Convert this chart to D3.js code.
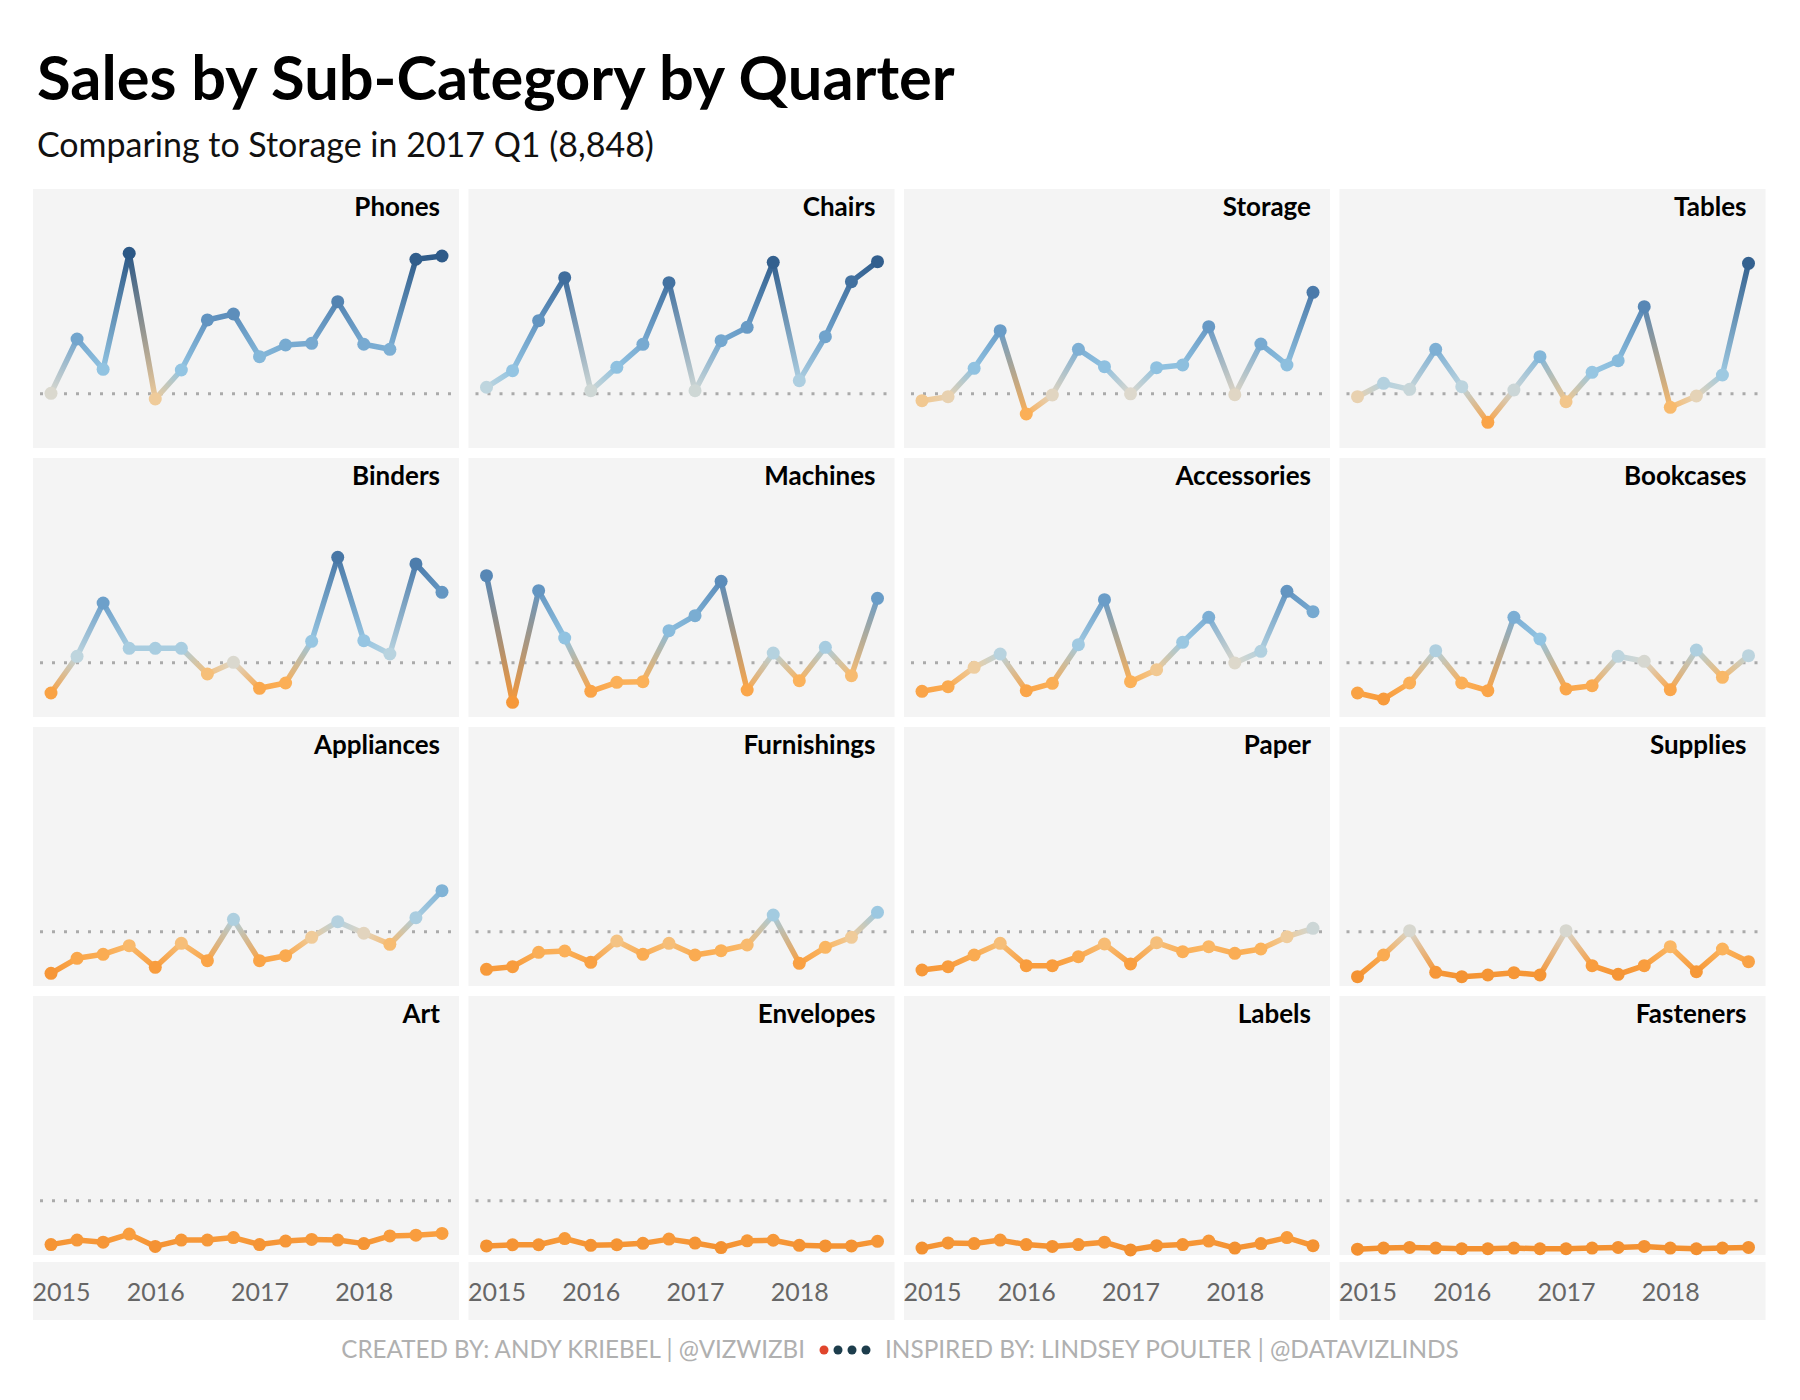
<!DOCTYPE html>
<html>
<head>
<meta charset="utf-8">
<script src="https://cdn.jsdelivr.net/npm/d3@7"></script>
<style>
  body { margin: 0; background: #fff; }
  svg { display: block; }
</style>
</head>
<body>
<div id="chart"></div>
<script>
// quarters shown on every small multiple
const quarters = ['2015 Q1','2015 Q2','2015 Q3','2015 Q4','2016 Q1','2016 Q2','2016 Q3','2016 Q4',
                  '2017 Q1','2017 Q2','2017 Q3','2017 Q4','2018 Q1','2018 Q2','2018 Q3','2018 Q4'];
const yearTicks = ['2015 Q1','2016 Q1','2017 Q1','2018 Q1'];
const benchmark = 8848; // Storage, 2017 Q1

// panel order, row by row
const gridRows = [
  ['Phones', 'Chairs', 'Storage', 'Tables'],
  ['Binders', 'Machines', 'Accessories', 'Bookcases'],
  ['Appliances', 'Furnishings', 'Paper', 'Supplies'],
  ['Art', 'Envelopes', 'Labels', 'Fasteners']
];

// quarterly sales
const phones      = [8950, 18530, 13185, 33660, 7940, 13060, 21890, 22945, 15410, 17475, 17770, 25120, 17600, 16710, 32600, 33180];
const chairs      = [10010, 12940, 21765, 29355, 9410, 13535, 17590, 28475, 9410, 18235, 20590, 32065, 11180, 18940, 28650, 32180];
const storage     = [7645, 8350, 13360, 20000, 5295, 8650, 16710, 13645, 8848, 13470, 13945, 20705, 8700, 17650, 13945, 26770];
const tables      = [8350, 10710, 9650, 16710, 10115, 3825, 9530, 15410, 7470, 12650, 14705, 24235, 6470, 8470, 12180, 31890];
const binders     = [3530, 10005, 19415, 11420, 11420, 11420, 6885, 8950, 4360, 5295, 12650, 27480, 12760, 10415, 26300, 21300];
const machines    = [24235, 1890, 21590, 13240, 3830, 5420, 5530, 14530, 17180, 23240, 4060, 10590, 5710, 11590, 6590, 20240];
const accessories = [3825, 4650, 8060, 10415, 3940, 5240, 12060, 20000, 5530, 7650, 12470, 16890, 8825, 10885, 21475, 17885];
const bookcases   = [3530, 2470, 5295, 11000, 5295, 3940, 16890, 13060, 4235, 4825, 10005, 9120, 4120, 11120, 6300, 10115];
const appliances  = [1535, 4180, 4890, 6410, 2595, 6830, 3760, 11065, 3760, 4640, 7890, 10640, 8600, 6655, 11350, 16115];
const furnishings = [2240, 2700, 5240, 5470, 3475, 7235, 4890, 6830, 4765, 5525, 6530, 11825, 3300, 6125, 7890, 12300];
const paper       = [2120, 2700, 4765, 6830, 2880, 2880, 4465, 6705, 3175, 6940, 5350, 6230, 5065, 5825, 8000, 9480];
const supplies    = [935, 4765, 9055, 1710, 935, 1235, 1640, 1235, 9055, 2880, 1360, 2880, 6230, 1820, 5825, 3585];
const art         = [1130, 1925, 1555, 2980, 810, 1925, 1925, 2365, 1130, 1745, 2045, 1925, 1305, 2665, 2790, 3105];
const envelopes   = [900, 1100, 1100, 2200, 1000, 1100, 1350, 2100, 1400, 600, 1800, 1900, 1000, 900, 900, 1700];
const labels      = [510, 1430, 1305, 1925, 1130, 810, 1130, 1555, 195, 935, 1130, 1745, 510, 1305, 2365, 935];
const fasteners   = [320, 510, 635, 510, 400, 400, 510, 400, 400, 510, 635, 810, 510, 400, 510, 635];

const sales = {
  Phones: phones, Chairs: chairs, Storage: storage, Tables: tables,
  Binders: binders, Machines: machines, Accessories: accessories, Bookcases: bookcases,
  Appliances: appliances, Furnishings: furnishings, Paper: paper, Supplies: supplies,
  Art: art, Envelopes: envelopes, Labels: labels, Fasteners: fasteners
};

const W = 1800, H = 1400;
const font = 'Lato, "Open Sans", "DejaVu Sans", sans-serif';
const panelW = 426, panelH = 259;
const colX = c => 33 + c * 435.5;
const rowY = r => 189 + r * 269;

const svg = d3.select('#chart').append('svg')
  .attr('width', W)
  .attr('height', H)
  .attr('font-family', font);

const defs = svg.append('defs');

const x = d3.scalePoint().domain(quarters).range([18, 409]);
const y = d3.scaleLinear().domain([0, 45000]).range([255, 0]);

// orange below the benchmark, blue above it
const color = d3.scaleLinear()
  .domain([0, 3000, 6000, 8000, 8848, 10000, 13000, 20000, 27000, 34000])
  .range(['#f28e2e', '#f99e3f', '#fbb45e', '#efcc9c', '#ddd8cc', '#bed5de', '#92c4e2', '#6a9dc8', '#4a79a9', '#2a5684'])
  .interpolate(d3.interpolateRgb)
  .clamp(true);

// title block
function fitText(sel, target) {
  const w = sel.node().getComputedTextLength();
  const fs = parseFloat(sel.attr('font-size'));
  sel.attr('font-size', fs * target / w);
}

const title = svg.append('text')
  .attr('x', 37).attr('y', 100)
  .attr('font-size', 60).attr('font-weight', 'bold').attr('fill', '#000')
  .text('Sales by Sub-Category by Quarter');
fitText(title, 918);

const subtitle = svg.append('text')
  .attr('x', 37).attr('y', 157)
  .attr('font-size', 34).attr('fill', '#111')
  .text('Comparing to Storage in 2017 Q1 (8,848)');
fitText(subtitle, 617);

let gid = 0;
gridRows.forEach((row, r) => {
  row.forEach((name, c) => {
    const vals = sales[name];
    const pts = vals.map((v, i) => ({ q: quarters[i], v }));
    const g = svg.append('g').attr('transform', `translate(${colX(c)},${rowY(r)})`);

    g.append('rect')
      .attr('width', panelW).attr('height', panelH)
      .attr('fill', '#f4f4f4');

    g.append('line')
      .attr('x1', 7).attr('x2', 419)
      .attr('y1', y(benchmark)).attr('y2', y(benchmark))
      .attr('stroke', '#aaaaaa')
      .attr('stroke-width', 3)
      .attr('stroke-dasharray', '3,9');

    // each segment blends straight from one point colour to the next
    d3.pairs(pts).forEach(([a, b]) => {
      const id = 'seg' + (gid++);
      const grad = defs.append('linearGradient')
        .attr('id', id)
        .attr('gradientUnits', 'userSpaceOnUse')
        .attr('x1', x(a.q)).attr('y1', y(a.v))
        .attr('x2', x(b.q)).attr('y2', y(b.v));
      grad.append('stop').attr('offset', 0).attr('stop-color', color(a.v));
      grad.append('stop').attr('offset', 1).attr('stop-color', color(b.v));
      g.append('line')
        .attr('x1', x(a.q)).attr('y1', y(a.v))
        .attr('x2', x(b.q)).attr('y2', y(b.v))
        .attr('stroke', `url(#${id})`)
        .attr('stroke-width', 5.5)
        .attr('stroke-linecap', 'round');
    });

    g.selectAll('circle')
      .data(pts)
      .enter()
      .append('circle')
      .attr('cx', d => x(d.q))
      .attr('cy', d => y(d.v))
      .attr('r', 6.5)
      .attr('fill', d => color(d.v));

    g.append('text')
      .attr('x', panelW - 19).attr('y', 27)
      .attr('text-anchor', 'end')
      .attr('font-size', 26).attr('font-weight', 'bold')
      .attr('fill', '#000')
      .text(name);
  });
});

// year axis under each column
d3.range(4).forEach(c => {
  const g = svg.append('g').attr('transform', `translate(${colX(c)},1262)`);
  g.append('rect').attr('width', panelW).attr('height', 58).attr('fill', '#f4f4f4');
  const ax = g.append('g')
    .call(d3.axisBottom(x).tickValues(yearTicks).tickFormat(q => q.slice(0, 4)).tickSize(0));
  ax.select('.domain').remove();
  ax.selectAll('text')
    .attr('y', 39).attr('dy', null)
    .attr('font-size', 25)
    .attr('font-family', font)
    .attr('fill', '#666');
  ax.select('.tick text')
    .attr('text-anchor', 'start')
    .attr('x', -x(yearTicks[0]) - 1);
});

// footer credits
const foot1 = svg.append('text')
  .attr('x', 805).attr('y', 1358)
  .attr('text-anchor', 'end')
  .attr('font-size', 23).attr('fill', '#b0b0b0')
  .text('CREATED BY: ANDY KRIEBEL | @VIZWIZBI');
fitText(foot1, 464);

const foot2 = svg.append('text')
  .attr('x', 885).attr('y', 1358)
  .attr('font-size', 23).attr('fill', '#b0b0b0')
  .text('INSPIRED BY: LINDSEY POULTER | @DATAVIZLINDS');
fitText(foot2, 574);

const dotColors = ['#e0452c', '#1d3d4c', '#1d3d4c', '#1d3d4c'];
svg.append('g')
  .selectAll('circle')
  .data(dotColors)
  .enter()
  .append('circle')
  .attr('cx', (d, i) => 824 + i * 14)
  .attr('cy', 1350)
  .attr('r', 4.5)
  .attr('fill', d => d);
</script>
</body>
</html>
